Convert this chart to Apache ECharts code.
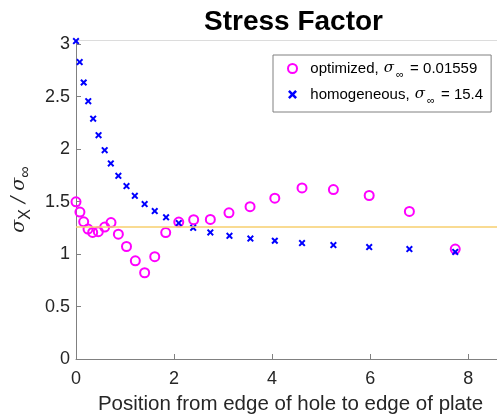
<!DOCTYPE html>
<html><head><meta charset="utf-8">
<script src="https://cdn.jsdelivr.net/npm/echarts@6/dist/echarts.min.js"></script>
<style>html,body{margin:0;padding:0;background:#fff}#c{width:497px;height:416px}</style>
</head><body><div id="c"></div>
<script>
const optX = [0, 0.08, 0.157, 0.245, 0.34, 0.455, 0.585, 0.714, 0.864, 1.03, 1.21, 1.40, 1.606, 1.83, 2.096, 2.40, 2.74, 3.12, 3.55, 4.055, 4.61, 5.25, 5.98, 6.80, 7.735];
const optY = [1.498, 1.40, 1.307, 1.238, 1.206, 1.213, 1.257, 1.30, 1.19, 1.072, 0.936, 0.822, 0.975, 1.205, 1.305, 1.327, 1.33, 1.393, 1.452, 1.533, 1.63, 1.615, 1.558, 1.406, 1.048];
const homX = [0, 0.075, 0.157, 0.25, 0.35, 0.46, 0.585, 0.71, 0.864, 1.03, 1.2, 1.40, 1.606, 1.837, 2.096, 2.39, 2.74, 3.13, 3.557, 4.055, 4.61, 5.25, 5.98, 6.80, 7.735];
const homY = [3.03, 2.83, 2.635, 2.457, 2.29, 2.133, 1.99, 1.864, 1.746, 1.648, 1.555, 1.476, 1.41, 1.35, 1.295, 1.25, 1.206, 1.174, 1.148, 1.127, 1.105, 1.086, 1.067, 1.048, 1.02];
const refLine = 1.265;
const xTicks = [0, 2, 4, 6, 8];
const yTicks = [0, 0.5, 1, 1.5, 2, 2.5, 3];
const legendTexts = {
  optimized: '{t|  optimized, }{s|σ}{sub|∞}{t| = 0.01559}',
  homogeneous: '{t|  homogeneous, }{s|σ}{sub|∞}{t| = 15.4}'
};
const FONT = 'Liberation Sans, Arial, sans-serif';
const chart = echarts.init(document.getElementById('c'));
const cross = 'path://M0,2 L2,0 L5,3 L8,0 L10,2 L7,5 L10,8 L8,10 L5,7 L2,10 L0,8 L3,5 Z';
const inList = (list, v) => list.some(t => Math.abs(t - v) < 1e-6);
chart.setOption({
  animation: false,
  title: {text: 'Stress Factor', left: 199, top: 3,
    textStyle: {fontFamily: FONT, fontWeight: 'bold', fontSize: 28, color: '#000'}},
  grid: {left: 76, width: 429, top: 40, height: 319, outerBoundsMode: 'none', containLabel: false},
  legend: {
    orient: 'vertical', left: 273, top: 55, padding: [6, 8, 6, 14], itemGap: 7,
    borderColor: '#808080', borderWidth: 1, backgroundColor: '#fff',
    itemWidth: 9, itemHeight: 9,
    data: [{name: 'optimized', icon: 'circle', itemStyle: {color: 'rgba(0,0,0,0)', borderColor: '#ff00ff', borderWidth: 2}},
           {name: 'homogeneous', icon: cross, itemStyle: {color: '#0000ff'}}],
    formatter: n => legendTexts[n],
    textStyle: {fontFamily: FONT, fontSize: 15, color: '#000',
      rich: {t: {fontFamily: FONT, fontSize: 15, color: '#000'},
             s: {fontFamily: 'DejaVu Serif', fontStyle: 'italic', fontSize: 15, color: '#000', padding: [0, 1, 0, 1]},
             sub: {fontFamily: FONT, fontSize: 11, color: '#000', padding: [12, 2, 0, 1]}}}
  },
  xAxis: [{
    type: 'value', min: 0, max: 8.75, interval: 2,
    name: 'Position from edge of hole to edge of plate', nameLocation: 'middle', nameGap: 35,
    nameTextStyle: {fontFamily: FONT, fontSize: 20.5, color: '#262626'},
    axisLine: {show: true, lineStyle: {color: '#808080', width: 1}},
    axisTick: {show: true, inside: true, length: 5, lineStyle: {color: '#808080'}},
    axisLabel: {fontFamily: FONT, fontSize: 18, color: '#262626', margin: 11, showMaxLabel: false,
      formatter: v => (inList(xTicks, v) ? String(v) : '')},
    splitLine: {show: false}
  }, {
    type: 'value', position: 'top', min: 0, max: 8.75,
    axisLine: {show: true, lineStyle: {color: '#dcdcdc', width: 1}},
    axisTick: {show: false}, axisLabel: {show: false}, splitLine: {show: false}
  }],
  yAxis: {
    type: 'value', min: 0, max: 3.04, interval: 0.5,
    name: '{s|σ}{sub|X}{s| / σ}{sub|∞}', nameLocation: 'middle', nameGap: 42, nameRotate: 90,
    nameTextStyle: {rich: {
      s: {fontFamily: 'DejaVu Serif', fontStyle: 'italic', fontSize: 19, color: '#262626'},
      sub: {fontFamily: FONT, fontSize: 16, color: '#262626', padding: [14, 0, 0, 0]}}},
    axisLine: {show: true, lineStyle: {color: '#808080', width: 1}},
    axisTick: {show: true, inside: true, length: 5, lineStyle: {color: '#808080'}},
    axisLabel: {fontFamily: FONT, fontSize: 18, color: '#262626', margin: 6, showMaxLabel: false,
      formatter: v => (inList(yTicks, v) ? String(v) : '')},
    splitLine: {show: false}
  },
  series: [{
    name: 'optimized', type: 'scatter', symbol: 'circle', symbolSize: 9,
    itemStyle: {color: 'rgba(0,0,0,0)', borderColor: '#ff00ff', borderWidth: 2, opacity: 1},
    data: optX.map((x, i) => [x, optY[i]]),
    markLine: {silent: true, symbol: 'none', label: {show: false},
      lineStyle: {color: '#f7cf6e', width: 1.5, type: 'solid'},
      data: [{yAxis: refLine}]}
  }, {
    name: 'homogeneous', type: 'scatter', symbol: cross, symbolSize: 7,
    itemStyle: {color: '#0000ff', opacity: 1},
    data: homX.map((x, i) => [x, homY[i]])
  }]
});
</script></body></html>
